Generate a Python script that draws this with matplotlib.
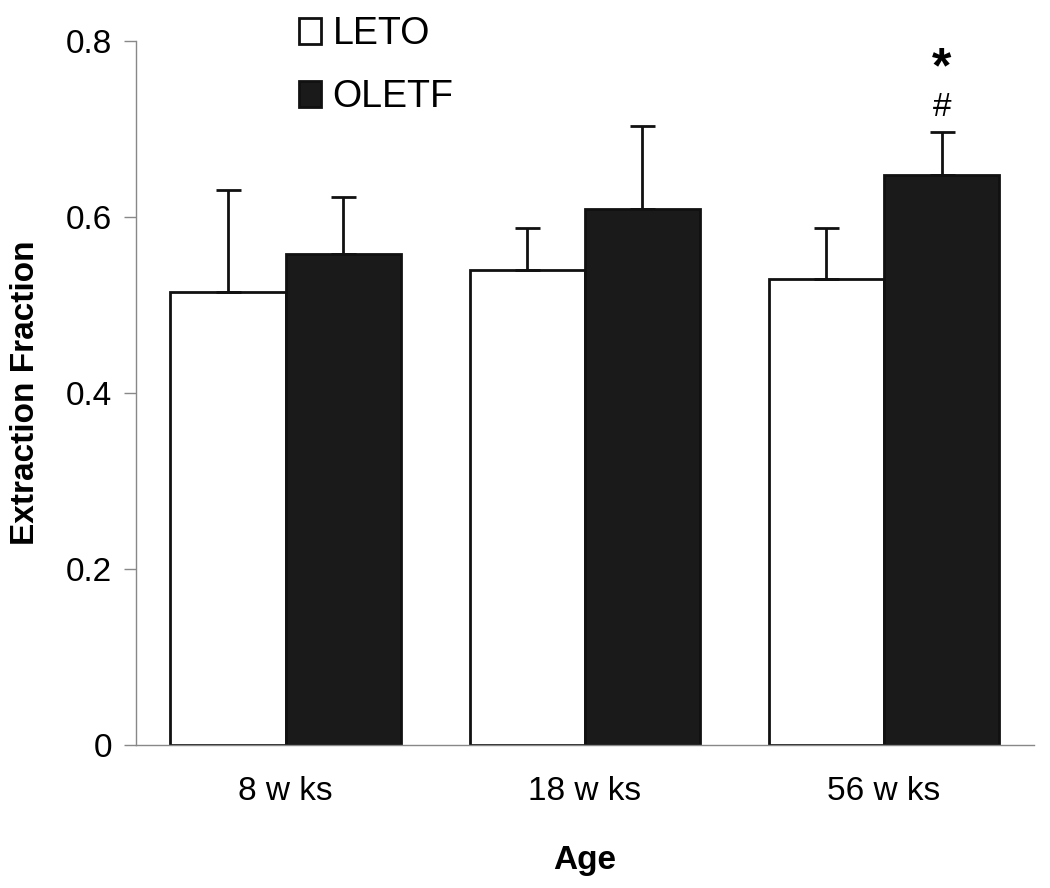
import numpy as np
import matplotlib.pyplot as plt
from matplotlib.patches import Patch

plt.rcParams['font.family'] = ['Liberation Sans', 'DejaVu Sans']

ages = ['8 w ks', '18 w ks', '56 w ks']
leto = [0.515, 0.540, 0.530]
leto_err = [0.116, 0.047, 0.057]
oletf = [0.558, 0.609, 0.648]
oletf_err = [0.065, 0.094, 0.049]

fig = plt.figure(figsize=(10.5, 8.88), dpi=100)
ax = fig.add_axes([0.1295, 0.161, 0.855, 0.793])

x = np.arange(len(ages))
w = 0.385
ekw = dict(elinewidth=2, capsize=9, capthick=2, ecolor='#111111')
ax.bar(x - w/2, leto, w, color='white', edgecolor='#111111', linewidth=2,
       yerr=[np.zeros(3), leto_err], error_kw=ekw)
ax.bar(x + w/2, oletf, w, color='#1a1a1a', edgecolor='#111111', linewidth=2,
       yerr=[np.zeros(3), oletf_err], error_kw=ekw)

# significance marks over OLETF 56 wks
ax.text(x[2] + w/2, 0.724, '#', ha='center', va='center', fontsize=24)
ax.text(x[2] + w/2, 0.768, '*', ha='center', va='center', fontsize=36,
        fontweight='bold')

ax.set_xlim(-0.5, 2.5)
ax.set_ylim(0, 0.8)
ax.set_yticks([0, 0.2, 0.4, 0.6, 0.8])
ax.set_yticklabels(['0', '0.2', '0.4', '0.6', '0.8'])
ax.set_xticks(x)
ax.set_xticklabels(ages)
ax.tick_params(axis='y', labelsize=24, length=9, width=1, color='#888888', pad=8)
ax.tick_params(axis='x', labelsize=24, length=0, pad=22)

for s in ['top', 'right']:
    ax.spines[s].set_visible(False)
for s in ['left', 'bottom']:
    ax.spines[s].set_color('#888888')
    ax.spines[s].set_linewidth(1)

ax.set_ylabel('Extraction Fraction', fontsize=24, fontweight='bold', labelpad=18)
ax.set_xlabel('Age', fontsize=24, fontweight='bold', labelpad=28)

handles = [Patch(facecolor='white', edgecolor='#111111', linewidth=2),
           Patch(facecolor='#1a1a1a', edgecolor='#111111', linewidth=2)]
fig.legend(handles, ['LETO', 'OLETF'], loc='upper left',
           bbox_to_anchor=(0.263, 1.007), frameon=False, fontsize=27,
           handlelength=0.6, handleheight=0.7, handletextpad=0.3,
           labelspacing=0.72, borderaxespad=0.2)

fig.savefig('out.png', dpi=100)
